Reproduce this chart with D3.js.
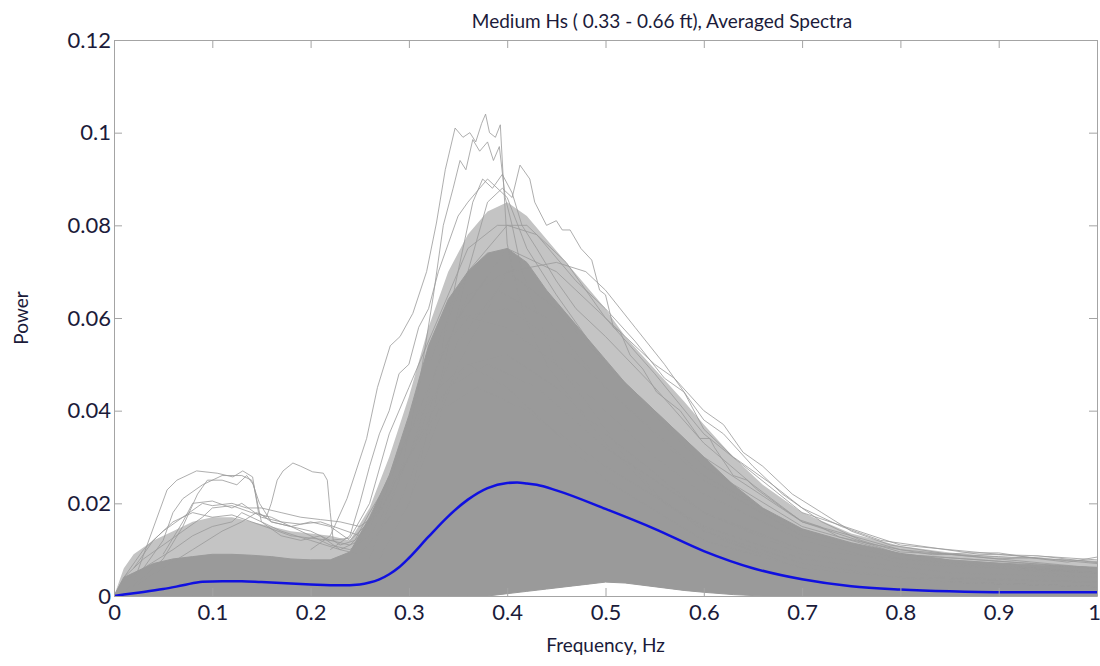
<!DOCTYPE html>
<html>
<head>
<meta charset="utf-8">
<script src="https://cdn.jsdelivr.net/npm/d3@7"></script>
<style>
  body { margin: 0; background: #fff; }
  text { font-family: Lato, "Open Sans", sans-serif; fill: #1b1b3a; }
</style>
</head>
<body>
<div id="spectra"></div>
<script>
// tick values and labels
const xTicks = [0, 0.1, 0.2, 0.3, 0.4, 0.5, 0.6, 0.7, 0.8, 0.9, 1];
const xTickLabels = ['0', '0.1', '0.2', '0.3', '0.4', '0.5', '0.6', '0.7', '0.8', '0.9', '1'];
const yTicks = [0, 0.02, 0.04, 0.06, 0.08, 0.1, 0.12];
const yTickLabels = ['0', '0.02', '0.04', '0.06', '0.08', '0.1', '0.12'];

// body of all the individual spectra:
// bandOuter = where the lines are still fairly common, bandUpper = where they become solid
const bandFreq = [0, 0.01, 0.02, 0.04, 0.06, 0.08, 0.1, 0.12, 0.14, 0.16, 0.18, 0.2, 0.22, 0.24, 0.26, 0.28, 0.3, 0.32, 0.34, 0.36, 0.38, 0.4, 0.42, 0.44, 0.46, 0.48, 0.5, 0.52, 0.55, 0.58, 0.6, 0.63, 0.66, 0.7, 0.75, 0.8, 0.85, 0.9, 0.95, 1.0];
const bandOuter = [0, 0.006, 0.009, 0.012, 0.014, 0.016, 0.017, 0.017, 0.016, 0.015, 0.014, 0.0135, 0.013, 0.012, 0.019, 0.03, 0.043, 0.058, 0.07, 0.078, 0.083, 0.085, 0.082, 0.077, 0.072, 0.067, 0.062, 0.056, 0.049, 0.042, 0.037, 0.03, 0.024, 0.018, 0.0135, 0.0108, 0.0094, 0.0085, 0.008, 0.0075];
const bandUpper = [0, 0.004, 0.005, 0.007, 0.008, 0.0085, 0.009, 0.009, 0.0088, 0.0085, 0.008, 0.0078, 0.0078, 0.0095, 0.017, 0.026, 0.039, 0.054, 0.064, 0.07, 0.074, 0.075, 0.072, 0.066, 0.061, 0.056, 0.051, 0.046, 0.04, 0.034, 0.03, 0.024, 0.019, 0.0145, 0.0115, 0.0092, 0.0078, 0.0071, 0.0066, 0.0062];
const bandLower = [0, 0, 0, 0, 0, 0, 0, 0, 0, 0, 0, 0, 0, 0, 0, 0, 0, 0, 0, 0, 0, 0.0005, 0.001, 0.0015, 0.002, 0.0025, 0.003, 0.0028, 0.002, 0.0012, 0.0008, 0.0003, 0, 0, 0, 0, 0, 0, 0, 0];

// single spectra standing out of the body, [frequency, power]
const spectrumA = [[0.2, 0.01], [0.22, 0.013], [0.237, 0.021], [0.257, 0.034], [0.268, 0.045], [0.281, 0.054], [0.291, 0.056], [0.304, 0.061], [0.318, 0.07], [0.328, 0.0805], [0.337, 0.092], [0.347, 0.101], [0.355, 0.099], [0.362, 0.1], [0.368, 0.098], [0.374, 0.102], [0.378, 0.104], [0.382, 0.1], [0.388, 0.099], [0.393, 0.1017], [0.396, 0.09], [0.4, 0.076], [0.41, 0.066], [0.42, 0.059], [0.44, 0.05], [0.47, 0.041], [0.5, 0.033], [0.55, 0.022], [0.6, 0.014], [0.7, 0.007], [0.8, 0.004], [1.0, 0.003]];
const spectrumB = [[0.26, 0.008], [0.29, 0.025], [0.31, 0.045], [0.325, 0.065], [0.335, 0.08], [0.345, 0.088], [0.352, 0.094], [0.358, 0.092], [0.365, 0.0985], [0.372, 0.096], [0.38, 0.098], [0.386, 0.094], [0.392, 0.097], [0.398, 0.086], [0.405, 0.08], [0.415, 0.07], [0.43, 0.061], [0.45, 0.05], [0.48, 0.042], [0.52, 0.03], [0.56, 0.02], [0.62, 0.012], [0.7, 0.006], [0.85, 0.003], [1.0, 0.002]];
const spectrumC = [[0.27, 0.008], [0.3, 0.02], [0.33, 0.045], [0.36, 0.07], [0.38, 0.085], [0.395, 0.088], [0.405, 0.086], [0.413, 0.093], [0.423, 0.09], [0.428, 0.085], [0.44, 0.08], [0.45, 0.081], [0.456, 0.079], [0.464, 0.079], [0.475, 0.075], [0.486, 0.0725], [0.494, 0.066], [0.5, 0.065], [0.508, 0.058], [0.515, 0.057], [0.525, 0.052], [0.538, 0.049], [0.552, 0.044], [0.576, 0.04], [0.596, 0.034], [0.606, 0.034], [0.611, 0.032], [0.63, 0.026], [0.644, 0.025], [0.654, 0.023], [0.68, 0.019], [0.698, 0.0164], [0.718, 0.015], [0.738, 0.0127], [0.766, 0.0114], [0.8, 0.01], [0.833, 0.0089], [0.868, 0.0093], [0.9, 0.0093], [0.935, 0.0082], [0.97, 0.0073], [1.0, 0.0084]];
const spectrumD = [[0.02, 0.002], [0.05, 0.006], [0.08, 0.01], [0.11, 0.014], [0.13, 0.016], [0.145, 0.018], [0.155, 0.017], [0.16, 0.02], [0.166, 0.025], [0.172, 0.027], [0.182, 0.0287], [0.19, 0.028], [0.202, 0.0268], [0.213, 0.0265], [0.217, 0.025], [0.22, 0.018], [0.223, 0.012], [0.23, 0.011], [0.245, 0.012], [0.26, 0.018], [0.28, 0.025], [0.3, 0.035], [0.33, 0.045], [0.36, 0.05], [0.4, 0.045], [0.45, 0.035], [0.5, 0.025], [0.6, 0.012], [0.7, 0.006], [0.85, 0.003], [1, 0.002]];
const spectrumE = [[0.02, 0.003], [0.033, 0.0106], [0.054, 0.0229], [0.064, 0.025], [0.084, 0.027], [0.105, 0.0265], [0.121, 0.0257], [0.131, 0.027], [0.141, 0.0257], [0.147, 0.018], [0.16, 0.016], [0.18, 0.015], [0.2, 0.014], [0.22, 0.012], [0.24, 0.011], [0.26, 0.015], [0.28, 0.022], [0.3, 0.03], [0.33, 0.04], [0.37, 0.045], [0.42, 0.04], [0.5, 0.028], [0.6, 0.015], [0.7, 0.008], [0.85, 0.004], [1, 0.003]];
const spectrumF = [[0.01, 0.001], [0.03, 0.004], [0.05, 0.008], [0.07, 0.015], [0.085, 0.022], [0.095, 0.025], [0.11, 0.025], [0.125, 0.024], [0.135, 0.026], [0.142, 0.024], [0.15, 0.016], [0.17, 0.014], [0.2, 0.012], [0.23, 0.01], [0.25, 0.012], [0.27, 0.02], [0.3, 0.03], [0.33, 0.042], [0.36, 0.05], [0.4, 0.052], [0.45, 0.045], [0.5, 0.035], [0.6, 0.018], [0.7, 0.009], [0.85, 0.005], [1, 0.004]];
const spectrumG = [[0.3, 0.02], [0.35, 0.05], [0.4, 0.07], [0.45, 0.072], [0.48, 0.07], [0.5, 0.066], [0.53, 0.058], [0.56, 0.05], [0.6, 0.038], [0.62, 0.035], [0.65, 0.028], [0.68, 0.022], [0.72, 0.016], [0.76, 0.012], [0.8, 0.0095], [0.9, 0.0085], [1.0, 0.0075]];
const spectrumH = [[0.3, 0.03], [0.33, 0.05], [0.35, 0.07], [0.365, 0.085], [0.375, 0.09], [0.385, 0.088], [0.395, 0.091], [0.405, 0.087], [0.415, 0.08], [0.43, 0.075], [0.45, 0.068], [0.47, 0.062], [0.5, 0.056], [0.55, 0.045], [0.6, 0.033], [0.65, 0.024], [0.7, 0.016], [0.8, 0.009], [1.0, 0.006]];
const spectrumI = [[0, 0], [0.01, 0.004], [0.03, 0.008], [0.05, 0.011], [0.07, 0.014], [0.09, 0.017], [0.1, 0.019], [0.12, 0.0195], [0.14, 0.018], [0.16, 0.017], [0.18, 0.015], [0.2, 0.016], [0.22, 0.015], [0.24, 0.012], [0.26, 0.016], [0.28, 0.026], [0.3, 0.035], [0.32, 0.045], [0.34, 0.055], [0.36, 0.06], [0.4, 0.058], [0.45, 0.05], [0.5, 0.04], [0.55, 0.03], [0.6, 0.022], [0.7, 0.012], [0.8, 0.007], [1, 0.005]];
const spectrumJ = [[0.01, 0.003], [0.03, 0.006], [0.06, 0.01], [0.08, 0.013], [0.1, 0.015], [0.12, 0.016], [0.13, 0.018], [0.15, 0.016], [0.17, 0.013], [0.19, 0.012], [0.21, 0.013], [0.23, 0.01], [0.25, 0.009], [0.27, 0.014], [0.29, 0.02], [0.31, 0.03], [0.34, 0.045], [0.38, 0.05], [0.43, 0.045], [0.5, 0.032], [0.6, 0.018], [0.7, 0.01], [1, 0.004]];
const spectrumK = [[0.05, 0.009], [0.07, 0.016], [0.08, 0.02], [0.1, 0.0205], [0.12, 0.019], [0.13, 0.02], [0.15, 0.017], [0.17, 0.016], [0.19, 0.0155], [0.21, 0.016], [0.23, 0.0145], [0.25, 0.013], [0.27, 0.019], [0.29, 0.03], [0.32, 0.045], [0.35, 0.06], [0.4, 0.062], [0.45, 0.055], [0.5, 0.045], [0.6, 0.025], [0.7, 0.013], [0.8, 0.008], [1, 0.005]];
const spectrumL = [[0.03, 0.006], [0.05, 0.012], [0.06, 0.018], [0.07, 0.021], [0.09, 0.024], [0.11, 0.026], [0.13, 0.026], [0.14, 0.025], [0.148, 0.02], [0.16, 0.016], [0.18, 0.015], [0.2, 0.013], [0.22, 0.011], [0.24, 0.01], [0.26, 0.013], [0.28, 0.02], [0.31, 0.035], [0.35, 0.055], [0.39, 0.066], [0.44, 0.06], [0.5, 0.045], [0.6, 0.026], [0.7, 0.014], [0.8, 0.008], [1, 0.005]];
const spectrumM = [[0.35, 0.06], [0.4, 0.075], [0.45, 0.07], [0.5, 0.06], [0.52, 0.056], [0.55, 0.05], [0.57, 0.047], [0.6, 0.04], [0.62, 0.037], [0.64, 0.031], [0.66, 0.028], [0.69, 0.022], [0.72, 0.018], [0.75, 0.014], [0.79, 0.011], [0.85, 0.009], [0.9, 0.008], [0.95, 0.0085], [1, 0.0078]];
const spectrumN = [[0.32, 0.05], [0.36, 0.07], [0.4, 0.08], [0.43, 0.078], [0.47, 0.068], [0.5, 0.062], [0.53, 0.055], [0.56, 0.047], [0.58, 0.044], [0.6, 0.036], [0.63, 0.03], [0.67, 0.024], [0.7, 0.019], [0.74, 0.015], [0.78, 0.012], [0.83, 0.0105], [0.88, 0.009], [0.94, 0.0087], [1, 0.0072]];
const spectrumO = [[0.01, 0.004], [0.03, 0.01], [0.05, 0.014], [0.07, 0.017], [0.09, 0.02], [0.1, 0.0195], [0.12, 0.02], [0.135, 0.019], [0.15, 0.019], [0.17, 0.018], [0.19, 0.017], [0.21, 0.0165], [0.23, 0.016], [0.25, 0.015], [0.27, 0.018], [0.3, 0.03], [0.33, 0.05], [0.36, 0.065], [0.4, 0.07], [0.45, 0.062], [0.5, 0.05], [0.6, 0.028], [0.7, 0.015], [0.8, 0.009], [1, 0.006]];
const spectrumP = [[0.02, 0.006], [0.04, 0.012], [0.06, 0.016], [0.08, 0.018], [0.1, 0.017], [0.12, 0.0175], [0.14, 0.016], [0.16, 0.0145], [0.18, 0.013], [0.2, 0.0125], [0.22, 0.012], [0.24, 0.0125], [0.26, 0.02], [0.28, 0.035], [0.3, 0.045], [0.33, 0.06], [0.36, 0.075], [0.39, 0.08], [0.42, 0.08], [0.46, 0.072], [0.5, 0.06], [0.55, 0.048], [0.6, 0.035], [0.7, 0.018], [0.8, 0.011], [1, 0.007]];
const spectrumQ = [[0.22, 0.01], [0.24, 0.013], [0.25, 0.02], [0.26, 0.028], [0.27, 0.035], [0.28, 0.04], [0.29, 0.048], [0.3, 0.05], [0.31, 0.058], [0.32, 0.062], [0.33, 0.07], [0.34, 0.076], [0.35, 0.082], [0.36, 0.085], [0.38, 0.09], [0.4, 0.086], [0.42, 0.075], [0.45, 0.065], [0.5, 0.05], [0.6, 0.03], [0.7, 0.016], [0.8, 0.01], [1, 0.006]];
const outlierSpectra = [spectrumA, spectrumB, spectrumC, spectrumD, spectrumE, spectrumF, spectrumG, spectrumH, spectrumI,
  spectrumJ, spectrumK, spectrumL, spectrumM, spectrumN, spectrumO, spectrumP, spectrumQ];

// averaged spectrum (blue)
const meanFreq = [0, 0.02, 0.05, 0.07, 0.09, 0.11, 0.13, 0.15, 0.17, 0.2, 0.23, 0.25, 0.26, 0.27, 0.28, 0.29, 0.3, 0.32, 0.34, 0.36, 0.38, 0.4, 0.41, 0.42, 0.43, 0.45, 0.5, 0.55, 0.6, 0.65, 0.7, 0.75, 0.8, 0.85, 0.9, 0.95, 1.0];
const meanPower = [0, 0.0006, 0.0015, 0.0023, 0.0031, 0.0032, 0.0032, 0.003, 0.0028, 0.0025, 0.0023, 0.0025, 0.0029, 0.0036, 0.0047, 0.0062, 0.0082, 0.0128, 0.0172, 0.0208, 0.0233, 0.0244, 0.0245, 0.0243, 0.024, 0.0228, 0.0188, 0.0145, 0.0097, 0.006, 0.0036, 0.0021, 0.0014, 0.001, 0.0008, 0.0008, 0.0008];

class SpectraPlot {
  constructor() {
    this.divId = 'spectra';
    this.visConfig = {
      width: 1100,
      height: 666,
      padding: { left: 114, top: 40, right: 3, bottom: 70 }
    };
    this.axisColor = '#a4a4a4';
    this.spectraColor = '#9a9a9a';
    this.meanColor = '#1010e0';
  }

  init() {
    const cfg = this.visConfig;
    const pad = cfg.padding;
    const innerW = cfg.width - pad.left - pad.right;
    const innerH = cfg.height - pad.top - pad.bottom;

    const xscale = d3.scaleLinear().domain([0, 1]).range([0, innerW]);
    const yscale = d3.scaleLinear().domain([0, 0.12]).range([innerH, 0]);

    const svg = d3.select(`#${this.divId}`)
      .append('svg')
      .attr('width', cfg.width)
      .attr('height', cfg.height);

    const g = svg.append('g')
      .attr('transform', `translate(${pad.left}, ${pad.top})`);

    svg.append('clipPath').attr('id', 'plotClip')
      .append('rect').attr('width', innerW).attr('height', innerH);

    const plot = g.append('g').attr('clip-path', 'url(#plotClip)');

    const band = bandFreq.map((f, i) => ({ f: f, lo: bandLower[i], mid: bandUpper[i], hi: bandOuter[i] }));

    // loose fringe of the spectra, then the solid part
    plot.append('path')
      .datum(band)
      .attr('fill', '#c4c4c4')
      .attr('d', d3.area()
        .x(d => xscale(d.f))
        .y0(d => yscale(d.lo))
        .y1(d => yscale(d.hi)));

    plot.append('path')
      .datum(band)
      .attr('fill', this.spectraColor)
      .attr('stroke', this.spectraColor)
      .attr('stroke-width', 1)
      .attr('d', d3.area()
        .x(d => xscale(d.f))
        .y0(d => yscale(d.lo))
        .y1(d => yscale(d.mid)));

    const spectrumLine = d3.line()
      .x(d => xscale(d[0]))
      .y(d => yscale(d[1]));

    plot.selectAll('.spectrum')
      .data(outlierSpectra)
      .enter()
      .append('path')
      .attr('class', 'spectrum')
      .attr('fill', 'none')
      .attr('stroke', this.spectraColor)
      .attr('stroke-opacity', 0.8)
      .attr('stroke-width', 1)
      .attr('d', spectrumLine);

    // averaged spectrum
    const mean = meanFreq.map((f, i) => [f, meanPower[i]]);
    plot.append('path')
      .datum(mean)
      .attr('fill', 'none')
      .attr('stroke', this.meanColor)
      .attr('stroke-width', 2.5)
      .attr('d', d3.line().curve(d3.curveMonotoneX)
        .x(d => xscale(d[0]))
        .y(d => yscale(d[1])));

    // box with inward ticks on all four sides
    const bottomAxis = d3.axisBottom(xscale).tickValues(xTicks)
      .tickFormat((d, i) => xTickLabels[i]).tickSizeInner(-8).tickSizeOuter(0).tickPadding(8);
    const topAxis = d3.axisTop(xscale).tickValues(xTicks)
      .tickFormat('').tickSizeInner(-8).tickSizeOuter(0);
    const leftAxis = d3.axisLeft(yscale).tickValues(yTicks)
      .tickFormat((d, i) => yTickLabels[i]).tickSizeInner(-8).tickSizeOuter(0).tickPadding(3);
    const rightAxis = d3.axisRight(yscale).tickValues(yTicks)
      .tickFormat('').tickSizeInner(-8).tickSizeOuter(0);

    const xAxisG = g.append('g').attr('transform', `translate(0, ${innerH})`).call(bottomAxis);
    const axes = [
      xAxisG,
      g.append('g').call(topAxis),
      g.append('g').call(leftAxis),
      g.append('g').attr('transform', `translate(${innerW}, 0)`).call(rightAxis)
    ];
    axes.forEach(a => {
      a.selectAll('path, line').attr('stroke', this.axisColor);
      a.selectAll('text').attr('fill', '#1b1b3a').style('font-size', '22px');
    });
    // keep the last label ("1") inside the page edge
    xAxisG.selectAll('.tick text')
      .filter((d, i) => i === xTicks.length - 1)
      .attr('dx', -3);

    // titles
    svg.append('text')
      .attr('x', 662)
      .attr('y', 28)
      .attr('text-anchor', 'middle')
      .style('font-size', '19px')
      .text('Medium Hs ( 0.33 - 0.66 ft), Averaged Spectra');

    svg.append('text')
      .attr('x', pad.left + innerW / 2)
      .attr('y', 652)
      .attr('text-anchor', 'middle')
      .style('font-size', '19px')
      .text('Frequency, Hz');

    svg.append('text')
      .attr('transform', `translate(28, ${pad.top + innerH / 2}) rotate(-90)`)
      .attr('text-anchor', 'middle')
      .style('font-size', '19px')
      .text('Power');
  }
}

const spectraPlot = new SpectraPlot();
spectraPlot.init();
</script>
</body>
</html>
